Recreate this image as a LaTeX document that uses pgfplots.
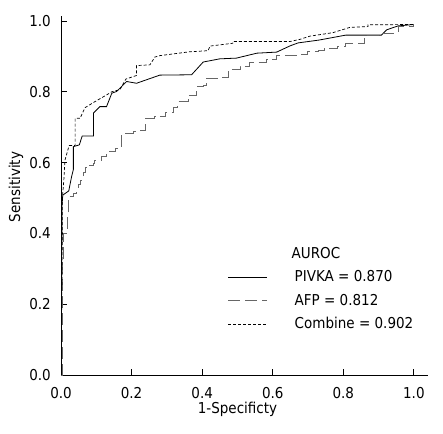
\documentclass[border=0pt]{standalone}
\usepackage{pgfplots}
\pgfplotsset{compat=1.18}
\usepackage{fontspec}
\setmainfont{DejaVu Sans}[FakeStretch=0.9]
\newcommand\f{\fontsize{15}{18}\selectfont}
\begin{document}
\begin{tikzpicture}[font=\f]
\path[use as bounding box] (-61pt,-58pt) rectangle (382pt,375pt);
\begin{axis}[
  at={(0pt,0pt)}, anchor=south west,
  scale only axis, width=367pt, height=359pt,
  xmin=0, xmax=1.04, ymin=0, ymax=1.014,
  axis lines=left, axis line style={-, line width=0.8pt},
  tick align=inside, major tick length=6pt,
  tick style={line width=0.8pt, black},
  xtick={0,0.2,0.4,0.6,0.8,1.0}, ytick={0,0.2,0.4,0.6,0.8,1.0},
  /pgf/number format/assume math mode=true,
  xticklabel={\pgfmathprintnumber[fixed,precision=1,zerofill]{\tick}},
  yticklabel={\pgfmathprintnumber[fixed,precision=1,zerofill]{\tick}},
  xticklabel style={inner sep=0pt, yshift=-12pt},
  yticklabel style={inner sep=0pt, xshift=-10pt},
  xlabel={1-Specificty}, ylabel={Sensitivity},
  xlabel style={at={(axis description cs:0.481,0)}, anchor=north, yshift=-27pt, inner sep=0pt},
  ylabel style={at={(axis description cs:-0.1226,0.524)}, anchor=center, inner sep=0pt},
  legend style={draw=none, fill=none, inner sep=0pt, outer sep=0pt,
    at={(axis cs:0.473,0.3686)}, anchor=north west, row sep=5pt,
    nodes={inner sep=2pt, text height=11.5pt, text depth=3pt, anchor=west},
    /tikz/every odd column/.append style={column sep=25pt}},
  legend cell align=left,
  legend image code/.code={\draw[#1] (0pt,0pt) -- (39pt,0pt);},
]
\addlegendimage{empty legend}
\addlegendentry{\hspace*{-3pt}AUROC}
\addplot[black, line width=0.8pt] coordinates {
(0,0) (0.002,0.30) (0.003,0.48) (0.005,0.508) (0.022,0.52) (0.030,0.56) (0.035,0.58) (0.035,0.645) (0.052,0.65) (0.060,0.675) (0.092,0.675) (0.092,0.74) (0.110,0.758) (0.129,0.758) (0.144,0.796) (0.158,0.801) (0.186,0.829) (0.214,0.824) (0.28,0.847) (0.370,0.848) (0.403,0.884) (0.450,0.893) (0.497,0.895) (0.555,0.909) (0.611,0.912) (0.650,0.930) (0.672,0.938) (0.731,0.946) (0.807,0.960) (0.908,0.960) (0.923,0.975) (0.955,0.986) (1,0.99)
};
\addlegendentry{PIVKA = 0.870}
\addplot[black!60, line width=0.8pt, dash pattern=on 12pt off 5pt, const plot mark left] coordinates {
(0,0) (0.003,0.20) (0.004,0.33) (0.008,0.38) (0.008,0.40) (0.019,0.40) (0.019,0.452) (0.021,0.504) (0.030,0.504) (0.035,0.514) (0.045,0.528) (0.048,0.537) (0.054,0.551) (0.063,0.571) (0.068,0.585) (0.077,0.593) (0.091,0.599) (0.096,0.607) (0.110,0.607) (0.115,0.617) (0.129,0.621) (0.129,0.632) (0.153,0.632) (0.153,0.641) (0.172,0.646) (0.172,0.683) (0.186,0.683) (0.205,0.687) (0.224,0.692) (0.238,0.697) (0.238,0.725) (0.266,0.729) (0.295,0.743) (0.318,0.756) (0.331,0.772) (0.360,0.791) (0.384,0.815) (0.403,0.819) (0.412,0.838) (0.450,0.841) (0.474,0.862) (0.507,0.873) (0.535,0.882) (0.583,0.892) (0.611,0.904) (0.668,0.906) (0.697,0.914) (0.730,0.918) (0.745,0.923) (0.783,0.929) (0.807,0.937) (0.861,0.937) (0.861,0.960) (0.912,0.965) (0.955,0.986) (1,0.99)
};
\addlegendentry{AFP = 0.812}
\addplot[black, line width=0.7pt, dash pattern=on 3pt off 2pt] coordinates {
(0,0) (0.003,0.30) (0.004,0.50) (0.008,0.55) (0.011,0.606) (0.023,0.648) (0.040,0.648) (0.040,0.725) (0.054,0.725) (0.068,0.755) (0.096,0.772) (0.129,0.791) (0.144,0.800) (0.167,0.806) (0.184,0.836) (0.214,0.846) (0.214,0.874) (0.252,0.876) (0.266,0.898) (0.28,0.902) (0.365,0.913) (0.417,0.916) (0.422,0.929) (0.487,0.937) (0.487,0.942) (0.649,0.942) (0.677,0.948) (0.705,0.957) (0.771,0.967) (0.819,0.982) (0.870,0.984) (0.870,0.989) (1,0.99)
};
\addlegendentry{Combine = 0.902}
\end{axis}
\end{tikzpicture}
\end{document}
